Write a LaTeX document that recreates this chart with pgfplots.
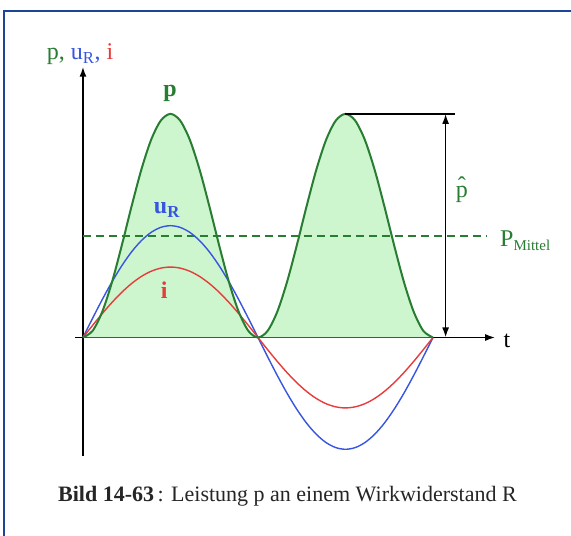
\documentclass[border=0pt]{standalone}
\usepackage{fontspec}
\setmainfont{Liberation Serif}
\usepackage{pgfplots}
\pgfplotsset{compat=1.18}
\usepackage{pgfplotstable}
\usetikzlibrary{arrows.meta}

\definecolor{pline}{RGB}{40,125,50}
\definecolor{pfill}{RGB}{206,246,206}
\definecolor{uline}{RGB}{55,85,225}
\definecolor{iline}{RGB}{230,60,60}
\definecolor{frameblue}{RGB}{25,70,150}

% x in degrees, u_R normalised to 1, i and p
\pgfplotstableread{
x    u        i        p
0    0        0        0
10   0.1736   0.1094   0.0603
20   0.3420   0.2155   0.2340
30   0.5000   0.3150   0.5000
40   0.6428   0.4050   0.8264
50   0.7660   0.4826   1.1736
60   0.8660   0.5456   1.5000
70   0.9397   0.5920   1.7660
80   0.9848   0.6204   1.9397
90   1.0000   0.6300   2.0000
100  0.9848   0.6204   1.9397
110  0.9397   0.5920   1.7660
120  0.8660   0.5456   1.5000
130  0.7660   0.4826   1.1736
140  0.6428   0.4050   0.8264
150  0.5000   0.3150   0.5000
160  0.3420   0.2155   0.2340
170  0.1736   0.1094   0.0603
180  0        0        0
190  -0.1736  -0.1094  0.0603
200  -0.3420  -0.2155  0.2340
210  -0.5000  -0.3150  0.5000
220  -0.6428  -0.4050  0.8264
230  -0.7660  -0.4826  1.1736
240  -0.8660  -0.5456  1.5000
250  -0.9397  -0.5920  1.7660
260  -0.9848  -0.6204  1.9397
270  -1.0000  -0.6300  2.0000
280  -0.9848  -0.6204  1.9397
290  -0.9397  -0.5920  1.7660
300  -0.8660  -0.5456  1.5000
310  -0.7660  -0.4826  1.1736
320  -0.6428  -0.4050  0.8264
330  -0.5000  -0.3150  0.5000
340  -0.3420  -0.2155  0.2340
350  -0.1736  -0.1094  0.0603
360  0        0        0
}\data

\begin{document}
\begin{tikzpicture}[x=1pt,y=1pt]
\path[use as bounding box] (-75.2,-80) rectangle (495.8,456);
\fill[white] (-75.2,-80) rectangle (495.8,456);
\draw[frameblue, line width=2.2pt] (-71.2,-90) -- (-71.2,445) -- (505,445);
\begin{axis}[
    scale only axis,
    width=420pt, height=389.3pt,
    xmin=-8, xmax=424, ymin=-1.06, ymax=2.422,
    enlargelimits=false,
    axis lines=middle,
    axis line style={line width=1.7pt, -{Latex[length=10pt,width=7pt]}},
    xtick=\empty, ytick=\empty,
    clip=false,
]
\addplot[draw=none, fill=pfill, smooth] table[x=x,y=p]{\data} \closedcycle;
\addplot[pline, line width=1.6pt, dash pattern=on 8pt off 5pt] coordinates {(0,0.91) (415.5,0.91)};
\addplot[uline, line width=1.4pt, smooth] table[x=x,y=u]{\data};
\addplot[iline, line width=1.4pt, smooth] table[x=x,y=i]{\data};
\addplot[pline, line width=2pt, smooth] table[x=x,y=p]{\data};
\addplot[black, line width=1.6pt] coordinates {(270,2) (382.6,2)};
\addplot[black, line width=1.6pt, {Latex[length=10pt,width=7pt]}-{Latex[length=10pt,width=7pt]}] coordinates {(373,2) (373,0)};

\node[anchor=base, text=pline, font=\fontsize{24}{28}\selectfont\bfseries] at (axis cs:89.5,2.151) {p};
\node[anchor=base, text=uline, font=\fontsize{24}{28}\selectfont\bfseries] at (axis cs:86.4,1.111) {u\textsubscript{R}};
\node[anchor=base, text=iline, font=\fontsize{24}{28}\selectfont\bfseries] at (axis cs:83.6,0.353) {i};
\node[anchor=base west, font=\fontsize{24}{28}\selectfont] at (axis cs:-40.8,2.482)
  {\textcolor{pline}{p,} \textcolor{uline}{u\textsubscript{R},} \textcolor{iline}{i}};
\node[anchor=base, font=\fontsize{24}{28}\selectfont] at (axis cs:436,-0.094) {t};
\node[anchor=base, text=pline, font=\fontsize{24}{28}\selectfont] at (axis cs:389.8,1.248)
  {\makebox[0pt][l]{\makebox[0.5em]{\raisebox{4.5pt}{\char"02C6}}}p};
\node[anchor=base west, text=pline, font=\fontsize{24}{28}\selectfont] at (axis cs:425.5,0.812)
  {P\textsubscript{\fontsize{15}{17}\selectfont Mittel}};
\node[anchor=base west, text=black!85, font=\fontsize{22}{26}\selectfont] at (axis cs:-29.2,-1.469)
  {\textbf{Bild 14-63}\,: Leistung p an einem Wirkwiderstand R};
\end{axis}
\end{tikzpicture}
\end{document}
